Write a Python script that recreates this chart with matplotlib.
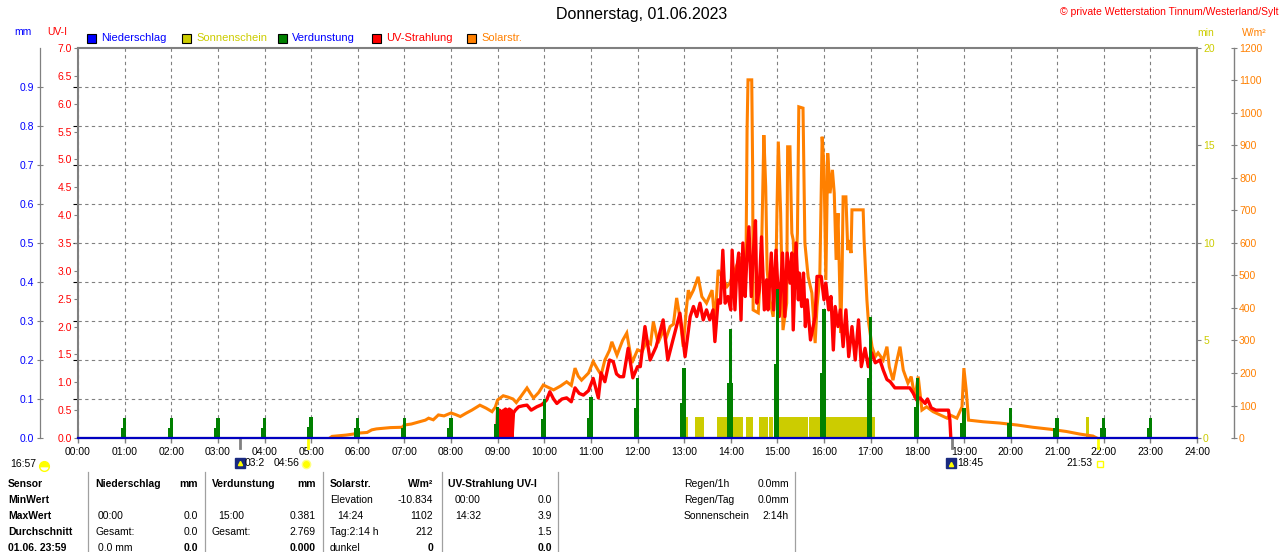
import matplotlib
matplotlib.use("Agg")
import matplotlib.pyplot as plt
from matplotlib.lines import Line2D
from matplotlib.patches import Rectangle
from matplotlib.markers import MarkerStyle

plt.rcParams['font.family'] = ['Liberation Sans', 'DejaVu Sans']

# ---- data ----
hour_labels = ['%02d:00' % h for h in range(25)]

# Solarstrahlung W/m2
solar_h = [5.40, 5.45, 5.60, 5.75, 5.90, 6.00, 6.20, 6.30, 6.40, 6.55, 6.70, 6.95, 7.00, 7.15, 7.33,
           7.45, 7.52, 7.62, 7.73, 7.85, 8.00, 8.10, 8.20, 8.32, 8.45, 8.55, 8.62, 8.75, 8.88, 8.95,
           9.00, 9.12, 9.22, 9.33, 9.40, 9.50, 9.63, 9.70, 9.77, 9.88, 9.98, 10.10, 10.20, 10.35,
           10.48, 10.58, 10.66, 10.73, 10.80, 10.95, 11.05, 11.15, 11.22, 11.30, 11.40, 11.45, 11.56,
           11.68, 11.77, 11.88, 12.00, 12.10, 12.20, 12.28, 12.34, 12.44, 12.55, 12.62, 12.70, 12.77,
           12.84, 12.92, 12.98, 13.05, 13.09, 13.13, 13.20, 13.30, 13.38, 13.48, 13.60, 13.66, 13.73,
           13.81, 13.92, 13.98, 14.09, 14.20, 14.27, 14.33, 14.35, 14.37, 14.45, 14.47, 14.48, 14.59,
           14.66, 14.71, 14.75, 14.78, 14.84, 14.91, 14.97, 14.99, 15.02, 15.07, 15.12, 15.20, 15.22,
           15.27, 15.31, 15.34, 15.38, 15.43, 15.46, 15.55, 15.59, 15.66, 15.74, 15.81, 15.85, 15.91,
           15.96, 16.00, 16.04, 16.08, 16.13, 16.18, 16.22, 16.26, 16.30, 16.36, 16.39, 16.41, 16.47,
           16.51, 16.54, 16.58, 16.60, 16.84, 16.86, 16.92, 16.95, 17.03, 17.10, 17.16, 17.27, 17.35,
           17.40, 17.48, 17.55, 17.63, 17.70, 17.80, 17.87, 17.95, 18.02, 18.10, 18.20, 18.34, 18.49,
           18.64, 18.70, 18.85, 18.96, 19.00, 19.05, 19.10, 19.41, 19.77, 20.14, 20.48, 20.85, 21.20,
           21.49, 21.77, 21.85]
solar_w = [0, 5, 7, 9, 12, 15, 17, 25, 28, 30, 32, 33, 40, 43, 50,
           55, 61, 56, 71, 68, 77, 72, 66, 76, 86, 95, 101, 92, 81, 95,
           117, 130, 126, 120, 109, 128, 154, 138, 123, 140, 163, 155, 148, 160,
           173, 162, 215, 190, 178, 200, 235, 210, 194, 240, 270, 296, 255,
           300, 323, 231, 271, 266, 300, 290, 358, 292, 330, 310, 343, 350,
           431, 360, 281, 400, 455, 435, 455, 496, 435, 415, 455, 354, 517,
           496, 466, 477, 517, 558, 477, 589, 948, 1102, 1102, 825, 394, 385,
           569, 932, 773, 517, 425, 373, 517, 692, 912, 692, 332, 415, 896,
           896, 630, 609, 466, 630, 1019, 1015, 600, 496, 446, 292, 404, 496,
           927, 835, 486, 876, 753, 825, 753, 548, 692, 323, 527, 742, 742,
           578, 609, 569, 702, 702, 609, 425, 363, 281, 250, 262, 240, 281,
           219, 178, 230, 281, 209, 169, 189, 123, 189, 86, 96, 81, 71,
           61, 71, 61, 96, 215, 148, 55, 50, 46, 40, 33, 27, 20,
           12, 6, 0]

# UV-Index
uv_h = [8.98, 9.00, 9.02, 9.04, 9.06, 9.08, 9.10, 9.13, 9.15, 9.17, 9.19, 9.21, 9.23, 9.25, 9.27,
        9.29, 9.31, 9.34, 9.38, 9.45, 9.55, 9.63, 9.72, 9.84, 9.95, 10.05, 10.12, 10.20, 10.27,
        10.38, 10.48, 10.58, 10.66, 10.75, 10.84, 10.95, 11.05, 11.16, 11.22, 11.30, 11.40, 11.48,
        11.55, 11.62, 11.70, 11.80, 11.90, 12.00, 12.06, 12.16, 12.27, 12.40, 12.55, 12.65, 12.76,
        12.91, 13.02, 13.13, 13.20, 13.27, 13.34, 13.41, 13.48, 13.55, 13.62, 13.66, 13.73, 13.78,
        13.83, 13.88, 13.94, 14.00, 14.03, 14.09, 14.13, 14.17, 14.22, 14.26, 14.31, 14.34, 14.39,
        14.44, 14.49, 14.53, 14.56, 14.61, 14.66, 14.72, 14.77, 14.80, 14.87, 14.92, 14.97, 15.04,
        15.11, 15.16, 15.21, 15.27, 15.31, 15.34, 15.40, 15.45, 15.47, 15.52, 15.56, 15.60, 15.64,
        15.71, 15.81, 15.85, 15.94, 16.00, 16.04, 16.10, 16.15, 16.20, 16.24, 16.30, 16.35, 16.41,
        16.47, 16.53, 16.60, 16.67, 16.74, 16.80, 16.88, 16.95, 17.02, 17.10, 17.20, 17.27, 17.35,
        17.42, 17.52, 17.63, 17.84, 17.91, 17.99, 18.06, 18.17, 18.22, 18.30, 18.40, 18.67, 18.70,
        18.72]
uv_i = [0.0, 0.52, 0.0, 0.50, 0.05, 0.48, 0.0, 0.50, 0.0, 0.52, 0.0, 0.50, 0.0, 0.52, 0.0,
        0.50, 0.02, 0.45, 0.50, 0.56, 0.58, 0.59, 0.50, 0.56, 0.60, 0.68, 0.83, 0.70, 0.62,
        0.70, 0.72, 0.65, 0.90, 0.80, 0.77, 0.85, 1.07, 0.72, 1.17, 1.01, 1.40, 1.37,
        1.15, 1.10, 1.10, 1.61, 1.08, 1.28, 1.28, 2.00, 1.40, 1.64, 2.12, 1.40, 1.76,
        2.24, 1.46, 2.18, 2.36, 2.18, 2.42, 2.12, 2.30, 2.12, 2.30, 1.73, 2.48, 2.42,
        3.37, 2.42, 2.54, 2.30, 3.37, 2.30, 3.02, 3.32, 2.12, 3.50, 2.54, 3.14, 3.79,
        2.54, 3.40, 3.90, 2.42, 2.66, 3.61, 2.30, 2.84, 2.30, 3.32, 2.30, 3.37, 2.18,
        3.32, 2.18, 3.32, 2.78, 3.32, 1.94, 3.50, 2.48, 2.96, 2.36, 2.96, 2.00, 2.48,
        1.76, 2.18, 2.90, 2.90, 2.48, 2.78, 2.30, 2.54, 1.58, 2.36, 2.00, 2.30, 1.64,
        2.30, 1.46, 2.00, 1.40, 2.12, 1.28, 1.61, 1.28, 1.53, 1.35, 1.40, 1.22, 1.05,
        1.01, 0.90, 0.90, 0.90, 0.81, 0.68, 0.72, 0.62, 0.70, 0.54, 0.50, 0.50, 0.32,
        0.0]

# Verdunstung mm (hourly)
evap_h = list(range(1, 24))
evap_mm = [0.051, 0.051, 0.051, 0.051, 0.054, 0.051, 0.051, 0.051, 0.079, 0.100, 0.105, 0.154,
           0.180, 0.280, 0.381, 0.330, 0.310, 0.154, 0.077, 0.077, 0.052, 0.052, 0.051]
evap_low = [0.026, 0.026, 0.026, 0.026, 0.027, 0.026, 0.026, 0.026, 0.036, 0.050, 0.052, 0.077,
            0.090, 0.140, 0.190, 0.167, 0.154, 0.080, 0.038, 0.038, 0.026, 0.026, 0.026]

# Sonnenschein (start, end in hours, minutes)
sun_start = [12.98, 13.23, 13.70, 14.02, 14.33, 14.60, 14.82, 14.97, 15.68, 16.02, 21.62]
sun_end = [13.08, 13.43, 13.98, 14.26, 14.48, 14.80, 14.91, 15.65, 16.00, 17.09, 21.68]
sun_min = [1.1, 1.1, 1.1, 1.1, 1.1, 1.1, 1.1, 1.1, 1.1, 1.1, 1.1]

# ---- colours ----
GREY = '#808080'
BLUE = '#0000FF'
RED = '#FF0000'
ORANGE = '#FF8000'
OLIVE = '#CCCC00'
GREEN = '#008000'

W, H = 1280, 552
fig = plt.figure(figsize=(W / 100, H / 100), dpi=100)


def fx(x):
    return x / W


def fy(y):
    return 1 - y / H


rect = [fx(78), fy(438), (1197 - 78) / W, 390 / H]
ax = fig.add_axes(rect)
ax.set_xlim(0, 24)
ax.set_ylim(0, 1)
ax.set_xticks(range(25))
ax.set_xticklabels(hour_labels)
ax.set_yticks([0.1 * i for i in range(1, 10)])
ax.tick_params(axis='y', left=False, labelleft=False, right=False, labelright=False)
ax.tick_params(axis='x', direction='out', length=3.6, width=1, color=GREY, labelsize=7.5, pad=3)
ax.grid(True, color=GREY, lw=0.8, ls=(0, (3, 3)))
for s in ax.spines.values():
    s.set_color(GREY)
    s.set_linewidth(1.5)

# sunshine
ax_sun = ax.twinx()
ax_sun.set_ylim(0, 20)
ax_sun.bar(sun_start, sun_min, width=[e - s for s, e in zip(sun_start, sun_end)],
           align='edge', color=OLIVE, lw=0)
ax_sun.set_yticks([0, 5, 10, 15, 20])
ax_sun.tick_params(axis='y', direction='out', length=2.9, color=GREY, labelcolor=OLIVE,
                   labelsize=7.5, pad=1.5)
for s in ax_sun.spines.values():
    s.set_visible(False)

# solar
ax_w = ax.twinx()
ax_w.set_ylim(0, 1200)
ax_w.plot(solar_h, solar_w, color=ORANGE, lw=2.2, solid_joinstyle='miter')
ax_w.set_yticks(range(0, 1201, 100))
for s in ax_w.spines.values():
    s.set_visible(False)
ax_w.spines['right'].set_visible(True)
ax_w.spines['right'].set_position(('outward', 26.6))
ax_w.spines['right'].set_color(GREY)
ax_w.spines['right'].set_linewidth(1.0)
ax_w.tick_params(axis='y', direction='inout', length=4.3, color=GREY, labelcolor=ORANGE,
                 labelsize=7.5, pad=1.5)

# UV
ax_uv = ax.twinx()
ax_uv.set_ylim(0, 7)
ax_uv.plot(uv_h, uv_i, color=RED, lw=2.4)
ax_uv.yaxis.tick_left()
ax_uv.set_yticks([0.5 * i for i in range(15)])
ax_uv.set_yticklabels(['%.1f' % (0.5 * i) for i in range(15)])
ax_uv.tick_params(axis='y', direction='out', length=2.9, color=GREY, labelcolor=RED,
                  labelsize=7.5, pad=1.5)
for s in ax_uv.spines.values():
    s.set_visible(False)

# mm axis: Verdunstung + Niederschlag
ax_mm = ax.twinx()
ax_mm.set_ylim(0, 1)
ax_mm.bar([h - 0.02 for h in evap_h], evap_low, width=0.12, color=GREEN, lw=0)
ax_mm.bar(evap_h, evap_mm, width=0.075, color=GREEN, lw=0)
ax_mm.plot([0, 24], [0, 0], color='#0000C0', lw=1.6, clip_on=False, zorder=5)
ax_mm.yaxis.tick_left()
ax_mm.set_yticks([0.1 * i for i in range(10)])
ax_mm.set_yticklabels(['%.1f' % (0.1 * i) for i in range(10)])
for s in ax_mm.spines.values():
    s.set_visible(False)
ax_mm.spines['left'].set_visible(True)
ax_mm.spines['left'].set_position(('outward', 27.4))
ax_mm.spines['left'].set_color(GREY)
ax_mm.spines['left'].set_linewidth(0.9)
ax_mm.spines['left'].set_bounds(0, 1)
ax_mm.tick_params(axis='y', direction='inout', length=5, color=GREY, labelcolor=BLUE,
                  labelsize=7.5, pad=1.5)

# day markers below the axis (twilight / sunrise / moon / sunset)
mark_h = [3.47, 4.93, 18.75, 21.88]
mark_c = [GREY, '#FFFF00', GREY, '#FFFF00']
for h, c in zip(mark_h, mark_c):
    ax.axvline(h, ymin=-0.026, ymax=0.0, color=c, lw=2, clip_on=False)

# ---- texts ----
fig.text(fx(642), fy(15), 'Donnerstag, 01.06.2023', ha='center', va='center', fontsize=11.5)
fig.text(fx(1279), fy(12), '© private Wetterstation Tinnum/Westerland/Sylt', ha='right',
         va='center', fontsize=7.5, color=RED)
fig.text(fx(14), fy(32), 'mm', color=BLUE, fontsize=7.5, va='center')
fig.text(fx(47), fy(32), 'UV-I', color=RED, fontsize=7.5, va='center')
fig.text(fx(1197), fy(33), 'min', color=OLIVE, fontsize=7.5, va='center')
fig.text(fx(1242), fy(33), 'W/m²', color=ORANGE, fontsize=7.5, va='center')

legend_items = [(87, 'Niederschlag', BLUE, BLUE), (182, 'Sonnenschein', OLIVE, OLIVE),
                (278, 'Verdunstung', GREEN, BLUE), (372, 'UV-Strahlung', RED, RED),
                (467, 'Solarstr.', ORANGE, ORANGE)]
for x, label, sq, tc in legend_items:
    fig.patches.append(Rectangle((fx(x), fy(43)), 9 / W, 9 / H, transform=fig.transFigure,
                                 facecolor=sq, edgecolor='black', lw=0.8))
    fig.text(fx(x + 14), fy(38), label, color=tc, fontsize=8, va='center')


def marker(x, y, **kw):
    fig.add_artist(Line2D([fx(x)], [fy(y)], transform=fig.transFigure, **kw))


# icons and times under the x axis
fig.text(fx(10), fy(464), '16:57', fontsize=7.5, va='center')
marker(44, 466, marker=MarkerStyle('o', fillstyle='top'), markersize=7, color='#FFFF00',
       markerfacecoloralt='none', markeredgecolor='#FFFF00')
marker(240, 463, marker='s', markersize=7, color='#1A2A80')
marker(240, 463, marker='^', markersize=3, color='#FFFF00')
fig.text(fx(245), fy(463), '03:2', fontsize=7.5, va='center')
fig.text(fx(274), fy(463), '04:56', fontsize=7.5, va='center')
marker(306, 464, marker='o', markersize=6, color='#FFFF00', markeredgecolor='#FFFF80')
marker(951, 463, marker='s', markersize=7, color='#1A2A80')
marker(951, 464, marker='^', markersize=3, color='#FFFF00')
fig.text(fx(957), fy(463), '18:45', fontsize=7.5, va='center')
fig.text(fx(1066), fy(463), '21:53', fontsize=7.5, va='center')
marker(1100, 464, marker='s', markersize=4, color='none', markeredgecolor='#FFFF00', lw=0)

# ---- statistics table ----
row_y = [484, 500, 516, 532, 548]
for y, t in zip(row_y, ['Sensor', 'MinWert', 'MaxWert', 'Durchschnitt', '01.06. 23:59']):
    fig.text(fx(8), fy(y), t, fontsize=7.5, fontweight='bold', va='center')

for x in [88, 205, 323, 442, 558, 795]:
    fig.add_artist(Line2D([fx(x), fx(x)], [fy(472), fy(552)], transform=fig.transFigure,
                          color='#A0A0A0', lw=0.9))

cells_left = [
    (95, 484, 'Niederschlag', True), (98, 516, '00:00', False), (95, 532, 'Gesamt:', False),
    (98, 548, '0.0 mm', False),
    (212, 484, 'Verdunstung', True), (218, 516, '15:00', False), (212, 532, 'Gesamt:', False),
    (330, 484, 'Solarstr.', True), (330, 500, 'Elevation', False), (337, 516, '14:24', False),
    (330, 532, 'Tag:2:14 h', False), (330, 548, 'dunkel', False),
    (448, 484, 'UV-Strahlung UV-I', True), (455, 500, '00:00', False), (455, 516, '14:32', False),
    (684, 484, 'Regen/1h', False), (684, 500, 'Regen/Tag', False), (684, 516, 'Sonnenschein', False),
]
cells_right = [
    (198, 484, 'mm', True), (198, 516, '0.0', False), (198, 532, '0.0', False), (198, 548, '0.0', True),
    (316, 484, 'mm', True), (316, 516, '0.381', False), (316, 532, '2.769', False),
    (316, 548, '0.000', True),
    (433, 484, 'W/m²', True), (433, 500, '-10.834', False), (433, 516, '1102', False),
    (433, 532, '212', False), (433, 548, '0', True),
    (552, 500, '0.0', False), (552, 516, '3.9', False), (552, 532, '1.5', False), (552, 548, '0.0', True),
    (789, 484, '0.0mm', False), (789, 500, '0.0mm', False), (789, 516, '2:14h', False),
]
for x, y, t, b in cells_left:
    fig.text(fx(x), fy(y), t, fontsize=7.5, va='center', fontweight='bold' if b else 'normal')
for x, y, t, b in cells_right:
    fig.text(fx(x), fy(y), t, fontsize=7.5, va='center', ha='right',
             fontweight='bold' if b else 'normal')

fig.savefig('out.png', dpi=100)
